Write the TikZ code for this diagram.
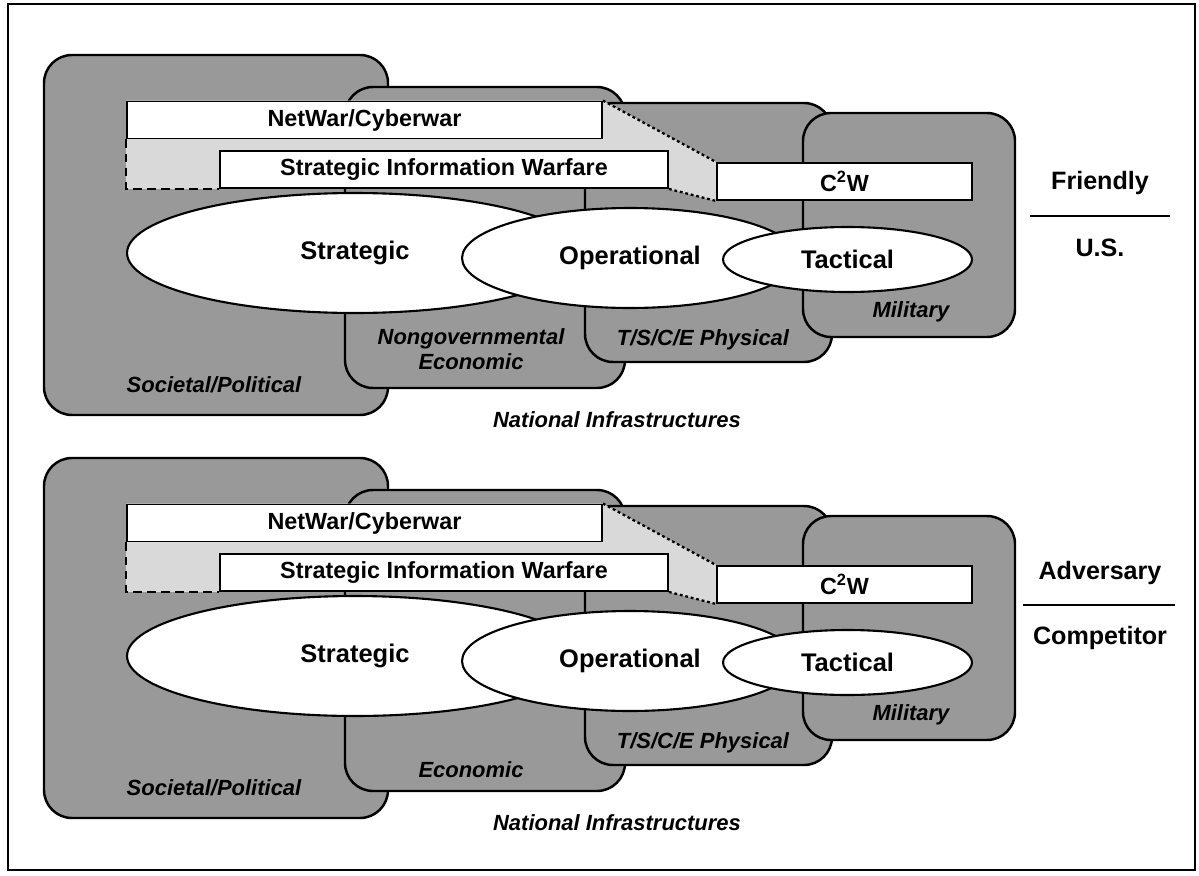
\documentclass[tikz,border=0pt]{standalone}
\usepackage{fontspec}
\setmainfont{Liberation Sans}
\usetikzlibrary{shapes.geometric}
\pgfdeclarelayer{back}
\pgfsetlayers{back,main}
\tikzset{region/.style={draw,line width=1.4pt,rounded corners=0.56cm,fill=black!40},
	 funnel/.style={fill=black!15},
	 warbox/.style={draw,line width=1.1pt,fill=white,minimum height=0.74cm,inner sep=0pt,font=\fontsize{13.3}{15}\selectfont\bfseries},
	 oval/.style={ellipse,draw,line width=1.2pt,fill=white,inner sep=0pt,font=\fontsize{14.5}{17}\selectfont\bfseries},
	 infra/.style={align=center,font=\fontsize{12.5}{14}\selectfont\bfseries\itshape},
	 side/.style={font=\fontsize{14.3}{17}\selectfont\bfseries}
	 }

\begin{document}
\begin{tikzpicture}[x=0.02cm,y=-0.02cm] % two panels, pixel grid
	\useasboundingbox (0,0) rectangle (1199,875);
	\draw[line width=1.1pt] (8,4) rectangle (1195,870);
	\foreach \dy/\p/\econ/\ey in {0/t/{Nongovernmental\\Economic}/349, 403/b/{Economic}/367}{
	\begin{scope}[shift={(0,\dy)}]
	\node[warbox,minimum width=9.5cm] (netwar\p) at (364.5,120) {NetWar/Cyberwar};
	\node[warbox,minimum width=8.96cm] (siw\p) at (444,169.5) {Strategic Information Warfare};
	\node[warbox,minimum width=5.1cm] (ctwo\p) at (844.5,181.5) {C\textsuperscript{2}W};
	\begin{pgfonlayer}{back}
	\draw[region] (44,55) rectangle (388,415);
	\draw[region] (345,87) rectangle (625,388);
	\draw[region] (585,103) rectangle (832,362);
	\draw[region] (803,113) rectangle (1015,337);
	\fill[funnel] (netwar\p.south west) -- (netwar\p.south west |- siw\p.south) -- (siw\p.south east)
		-- (ctwo\p.south west) -- (ctwo\p.north west) -- (netwar\p.north east) -- (netwar\p.north west) -- cycle;
	\end{pgfonlayer}
	\draw[line width=1.2pt,dash pattern=on 5pt off 3pt] (netwar\p.south west) -- (netwar\p.south west |- siw\p.south) -- (siw\p.south west);
	\draw[line width=1.3pt,dash pattern=on 1.6pt off 1.6pt] (netwar\p.north east) -- (ctwo\p.north west);
	\draw[line width=1.3pt,dash pattern=on 1.6pt off 1.6pt] (siw\p.south east) -- (ctwo\p.south west);
	\node[oval,minimum width=9.12cm,minimum height=2.4cm] (strat\p) at (355,253) {Strategic};
	\node[oval,minimum width=6.72cm,minimum height=2cm] (oper\p) at (630,258) {Operational};
	\node[oval,minimum width=4.98cm,minimum height=1.3cm] (tact\p) at (847.5,259.5) {Tactical};
	\node[infra] (soc\p) at (214,385) {Societal/Political};
	\node[infra] (econ\p) at (471,\ey) {\econ};
	\node[infra] (phys\p) at (703,340) {T/S/C/E Physical};
	\node[infra] (mil\p) at (911,312) {Military};
	\node[infra] (nat\p) at (617,420) {National Infrastructures};
	\end{scope}
	}
	\node[side] (friendly) at (1100,183) {Friendly};
	\node[side] (us) at (1100,248) {U.S.};
	\draw[line width=1.3pt] (1030,216) -- (1170,216);
	\node[side] (adversary) at (1100,573) {Adversary};
	\node[side] (competitor) at (1100,638) {Competitor};
	\draw[line width=1.3pt] (1023,605) -- (1175,605);
\end{tikzpicture}
\end{document}
